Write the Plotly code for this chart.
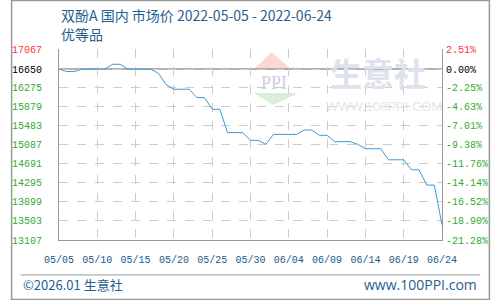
import plotly.graph_objects as go

dates = [
    "2022-05-05", "2022-05-06", "2022-05-07", "2022-05-08", "2022-05-09", "2022-05-10",
    "2022-05-11", "2022-05-12", "2022-05-13", "2022-05-14", "2022-05-15", "2022-05-16",
    "2022-05-17", "2022-05-18", "2022-05-19", "2022-05-20", "2022-05-21", "2022-05-22",
    "2022-05-23", "2022-05-24", "2022-05-25", "2022-05-26", "2022-05-27", "2022-05-28",
    "2022-05-29", "2022-05-30", "2022-05-31", "2022-06-01", "2022-06-02", "2022-06-03",
    "2022-06-04", "2022-06-05", "2022-06-06", "2022-06-07", "2022-06-08", "2022-06-09",
    "2022-06-10", "2022-06-11", "2022-06-12", "2022-06-13", "2022-06-14", "2022-06-15",
    "2022-06-16", "2022-06-17", "2022-06-18", "2022-06-19", "2022-06-20", "2022-06-21",
    "2022-06-22", "2022-06-23", "2022-06-24",
]
prices = [
    16650, 16600, 16600, 16650, 16650, 16650,
    16650, 16750, 16750, 16650, 16650, 16650,
    16650, 16560, 16325, 16233, 16233, 16233,
    16060, 16060, 15817, 15817, 15333, 15333,
    15333, 15173, 15173, 15090, 15297, 15297,
    15297, 15297, 15387, 15387, 15277, 15277,
    15146, 15146, 15146, 15090, 15000, 15000,
    15000, 14770, 14770, 14770, 14563, 14563,
    14246, 14246, 13423,
]
base_price = 16650

x_tick_dates = ["2022-05-05", "2022-05-10", "2022-05-15", "2022-05-20", "2022-05-25",
                "2022-05-30", "2022-06-04", "2022-06-09", "2022-06-14", "2022-06-19", "2022-06-24"]
x_tick_labels = ["05/05", "05/10", "05/15", "05/20", "05/25", "05/30",
                 "06/04", "06/09", "06/14", "06/19", "06/24"]

y_ticks = [17067, 16650, 16275, 15879, 15483, 15087, 14691, 14295, 13899, 13503, 13107]
pct_labels = ["2.51%", "0.00%", "-2.25%", "-4.63%", "-7.01%", "-9.38%",
              "-11.76%", "-14.14%", "-16.52%", "-18.90%", "-21.28%"]

title_text = "双酚A 国内 市场价 2022-05-05 - 2022-06-24"
subtitle_text = "优等品"

RED = "#ff3333"
GREEN = "#33aa33"
BLACK = "#000000"
BLUE_TXT = "#1f6092"
tick_font = "Liberation Mono, DejaVu Sans Mono, monospace"
cjk_font = "Noto Sans CJK SC, Noto Sans, sans-serif"


def colored(labels):
    out = []
    for i, t in enumerate(labels):
        c = RED if i == 0 else (BLACK if i == 1 else GREEN)
        out.append('<span style="color:%s">%s</span>' % (c, t))
    return out


fig = go.Figure()
fig.add_trace(go.Scatter(x=dates, y=prices, mode="lines",
                         line=dict(color="#3a9ad9", width=1), hoverinfo="skip",
                         showlegend=False))
# invisible trace to activate the right axis
fig.add_trace(go.Scatter(x=[dates[0]], y=[prices[0]], yaxis="y2", mode="lines",
                         line=dict(width=0), showlegend=False, hoverinfo="skip"))

grid_col = "#cccccc"
fig.update_layout(
    width=500, height=300,
    margin=dict(l=50, r=50, t=49, b=60, pad=0),
    paper_bgcolor="white", plot_bgcolor="white",
    showlegend=False,
    xaxis=dict(
        type="date", range=[dates[0], dates[-1]],
        tickvals=x_tick_dates, ticktext=x_tick_labels,
        tickfont=dict(family=tick_font, size=10, color="#1a5a8a"),
        showgrid=True, gridcolor=grid_col, griddash="dash", gridwidth=1,
        showline=True, linecolor="#999999", linewidth=1,
        ticks="", ticklabelstandoff=10, zeroline=False,
    ),
    yaxis=dict(
        range=[y_ticks[-1], y_ticks[0]],
        tickvals=y_ticks, ticktext=colored([str(v) for v in y_ticks]),
        tickfont=dict(family=tick_font, size=10, color=GREEN),
        showgrid=True, gridcolor=grid_col, griddash="dash", gridwidth=1,
        showline=True, linecolor="#999999", linewidth=1, mirror=True,
        ticks="", ticklabelstandoff=14, zeroline=False,
    ),
    yaxis2=dict(
        overlaying="y", side="right",
        range=[y_ticks[-1], y_ticks[0]],
        tickvals=y_ticks, ticktext=colored(pct_labels),
        tickfont=dict(family=tick_font, size=10, color=GREEN),
        showgrid=False, showline=False, ticks="", ticklabelstandoff=3, zeroline=False,
    ),
)

shapes = []
# watermark logo
shapes.append(dict(type="path", xref="paper", yref="paper", layer="below",
                   path="M 0.5075 0.890 L 0.555 0.984 L 0.6075 0.890 Z",
                   fillcolor="#fad9d4", line=dict(width=0)))
shapes.append(dict(type="path", xref="paper", yref="paper", layer="below",
                   path="M 0.5075 0.7696 L 0.625 0.7696 L 0.56 0.7068 Z",
                   fillcolor="#d9efdc", line=dict(width=0)))
# base price line
shapes.append(dict(type="line", xref="paper", yref="y", x0=0, x1=1,
                   y0=base_price, y1=base_price, layer="below",
                   line=dict(color="#999999", width=1.5)))
# footer separator
shapes.append(dict(type="line", xref="paper", yref="paper", x0=-0.1, x1=1.1,
                   y0=-0.183, y1=-0.183, line=dict(color="#999999", width=1)))
# outer border
shapes.append(dict(type="rect", xref="paper", yref="paper",
                   x0=-0.12375, x1=1.12375, y0=-0.3115, y1=1.254,
                   line=dict(color="#999999", width=1.5)))
fig.update_layout(shapes=shapes)

annotations = [
    dict(text="PPI", xref="paper", yref="paper", x=0.5625, y=0.822,
         showarrow=False, font=dict(family="Liberation Serif, serif", size=18, color="#c9d1e4"),
         xanchor="center", yanchor="middle"),
    dict(text="<b>生意社</b>", xref="paper", yref="paper", x=0.8325, y=0.88,
         showarrow=False, font=dict(family=cjk_font, size=32, color="#dde2ec"),
         xanchor="center", yanchor="middle"),
    dict(text="WWW.100PPI.COM", xref="paper", yref="paper", x=0.6925, y=0.698,
         showarrow=False, font=dict(family="Liberation Sans, sans-serif", size=13, color="#e6e6e6"),
         xanchor="left", yanchor="middle"),
    dict(text=title_text, xref="paper", yref="paper", x=0, y=1.178,
         showarrow=False, font=dict(family=cjk_font, size=14, color=BLUE_TXT),
         xanchor="left", yanchor="middle"),
    dict(text=subtitle_text, xref="paper", yref="paper", x=0, y=1.0785,
         showarrow=False, font=dict(family=cjk_font, size=14, color=BLUE_TXT),
         xanchor="left", yanchor="middle"),
    dict(text="©2026.01 生意社", xref="paper", yref="paper", x=-0.1, y=-0.2356,
         showarrow=False, font=dict(family=cjk_font, size=13, color=BLUE_TXT),
         xanchor="left", yanchor="middle"),
    dict(text="www.100PPI.com", xref="paper", yref="paper", x=1.0975, y=-0.2356,
         showarrow=False, font=dict(family="Open Sans, sans-serif", size=14, color=BLUE_TXT),
         xanchor="right", yanchor="middle"),
]
fig.update_layout(annotations=annotations)

fig.write_html("out.html", config=dict(displayModeBar=False))
